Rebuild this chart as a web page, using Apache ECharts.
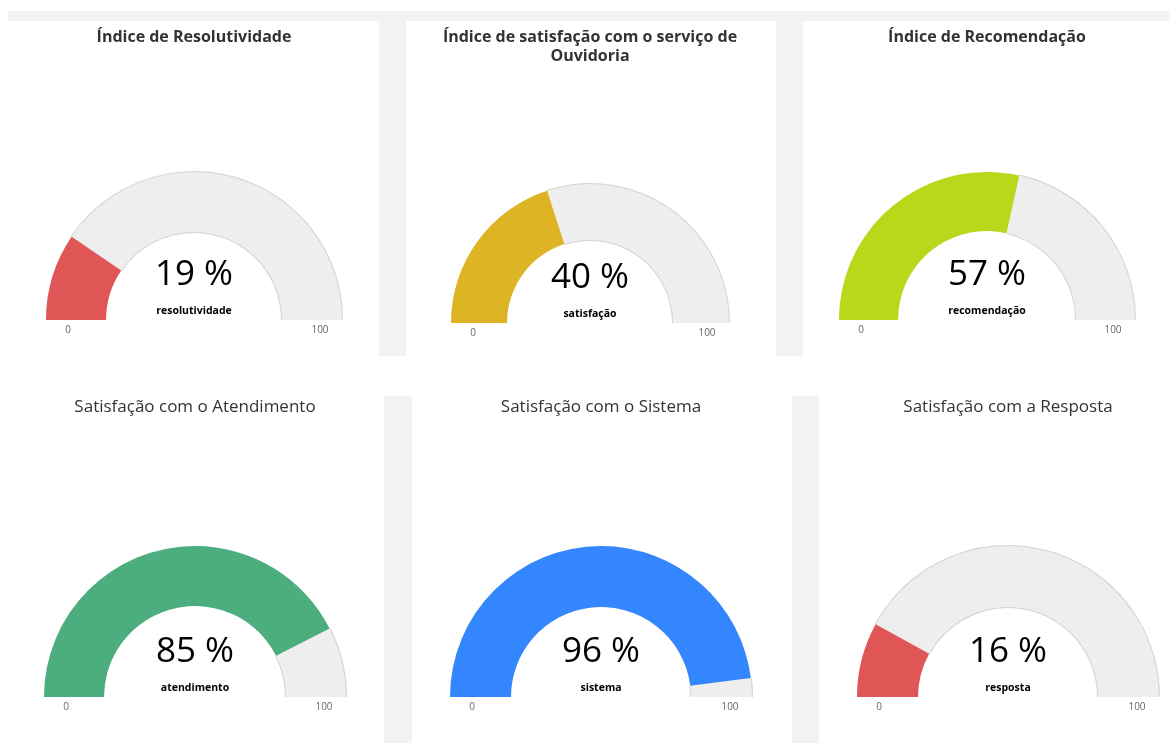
<!DOCTYPE html>
<html>
<head>
<meta charset="utf-8">
<script src="https://cdn.jsdelivr.net/npm/echarts@6/dist/echarts.min.js"></script>
<style>
html, body { margin: 0; background: #fff; }
#main { width: 1169px; height: 743px; }
</style>
</head>
<body>
<div id="main"></div>
<script>
var titles = ['Índice de Resolutividade', 'Índice de satisfação com o serviço de\nOuvidoria', 'Índice de Recomendação',
  'Satisfação com o Atendimento', 'Satisfação com o Sistema', 'Satisfação com a Resposta'];
var names = ['resolutividade', 'satisfação', 'recomendação', 'atendimento', 'sistema', 'resposta'];
var values = [19, 40, 57, 85, 96, 16];
var axisTicks = [0, 100];

var colors = ['#e05555', '#ddb424', '#b8d81a', '#4cad7e', '#3486ff', '#e05555'];

// posição de cada painel (centro do gauge, raio, largura da faixa, topo do título)
var panels = [
  { cx: 194, cy: 320, r: 148, w: 60, top: 28, bold: true },
  { cx: 590, cy: 323, r: 139, w: 56, top: 28, bold: true },
  { cx: 987, cy: 320, r: 148, w: 59, top: 28, bold: true },
  { cx: 195, cy: 697, r: 151, w: 60, top: 398, bold: false },
  { cx: 601, cy: 697, r: 151, w: 61, top: 398, bold: false },
  { cx: 1008, cy: 697, r: 151, w: 61, top: 398, bold: false }
];

var gray = '#f2f2f2';
var bgRects = [
  [8, 11, 1161, 10],
  [379, 11, 27, 345],
  [776, 11, 27, 345],
  [384, 396, 28, 347],
  [792, 396, 27, 347]
];

var chart = echarts.init(document.getElementById('main'), null, { renderer: 'canvas' });

var title = [], series = [], graphic = [];

bgRects.forEach(function (b) {
  graphic.push({ type: 'rect', silent: true, z: -10, shape: { x: b[0], y: b[1], width: b[2], height: b[3] }, style: { fill: gray } });
});

panels.forEach(function (p, i) {
  title.push({
    text: titles[i],
    left: p.cx,
    top: p.top,
    padding: 0,
    textAlign: 'center',
    textStyle: {
      fontFamily: 'Open Sans',
      fontSize: p.bold ? 16 : 17,
      fontWeight: p.bold ? 'bold' : 'normal',
      color: '#333',
      lineHeight: 19
    }
  });

  var frac = values[i] / axisTicks[1];
  // contorno da parte cinza
  series.push({
    type: 'gauge',
    center: [p.cx, p.cy],
    radius: p.r + 1,
    startAngle: 180,
    endAngle: 0,
    min: axisTicks[0],
    max: axisTicks[1],
    silent: true,
    axisLine: { lineStyle: { width: p.w + 2, color: [[frac, 'rgba(0,0,0,0)'], [1, '#d3d3d3']] } },
    pointer: { show: false },
    axisTick: { show: false },
    splitLine: { show: false },
    axisLabel: { show: false },
    title: { show: false },
    detail: { show: false },
    data: [{ value: values[i] }]
  });

  series.push({
    type: 'gauge',
    center: [p.cx, p.cy],
    radius: p.r,
    startAngle: 180,
    endAngle: 0,
    min: axisTicks[0],
    max: axisTicks[1],
    axisLine: { lineStyle: { width: p.w, color: [[1, '#eeeeee']] } },
    progress: { show: true, width: p.w, roundCap: false, itemStyle: { color: colors[i] } },
    pointer: { show: false },
    axisTick: { show: false },
    splitLine: { show: false },
    axisLabel: { show: false },
    anchor: { show: false },
    title: {
      offsetCenter: [0, -9],
      fontFamily: 'Open Sans',
      fontSize: 10.5,
      fontWeight: 'bold',
      color: '#000'
    },
    detail: {
      offsetCenter: [0, -45],
      formatter: '{value} %',
      fontFamily: 'Open Sans',
      fontSize: 35,
      fontWeight: 'normal',
      color: '#000'
    },
    data: [{ value: values[i], name: names[i] }]
  });

  // rótulos 0 e 100 abaixo das pontas
  axisTicks.forEach(function (t, k) {
    var side = k === 0 ? -1 : 1;
    graphic.push({
      type: 'text',
      silent: true,
      x: p.cx + side * (p.r - 22),
      y: p.cy + 10,
      style: {
        text: String(t),
        fill: '#666',
        font: '10px "Open Sans"',
        align: 'center',
        verticalAlign: 'middle'
      }
    });
  });
});

chart.setOption({
  animation: false,
  title: title,
  graphic: graphic,
  series: series
});
</script>
</body>
</html>
